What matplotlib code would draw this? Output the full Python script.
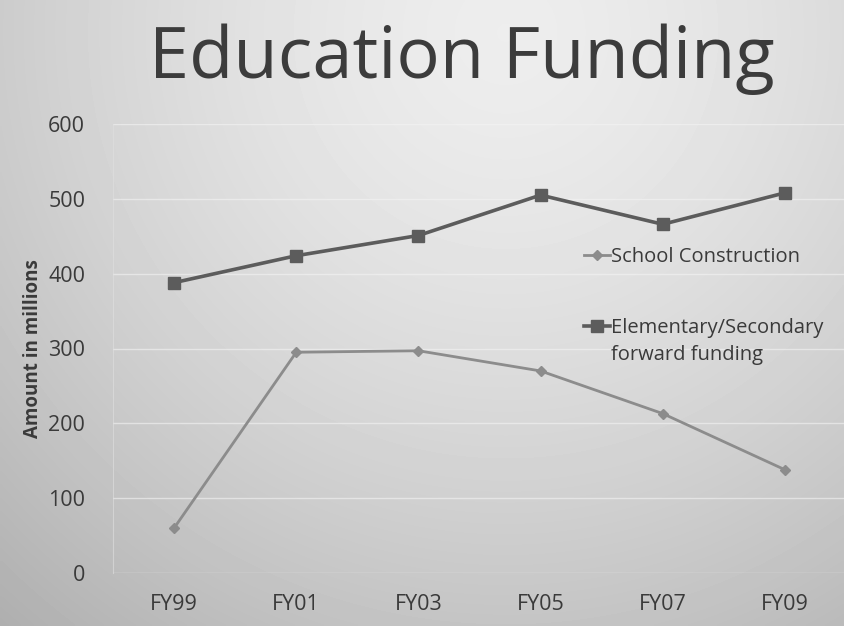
import numpy as np
import matplotlib
matplotlib.use("Agg")
import matplotlib.pyplot as plt
from matplotlib.lines import Line2D

# ---- data ----
categories = ["FY99", "FY01", "FY03", "FY05", "FY07", "FY09"]
school_construction = [60, 295, 297, 270, 213, 138]
elem_secondary = [388, 424, 451, 505, 466, 508]
yticks = [0, 100, 200, 300, 400, 500, 600]

FONT = ["Open Sans", "DejaVu Sans"]
plt.rcParams["font.family"] = FONT

W, H = 844, 626
fig = plt.figure(figsize=(W / 100, H / 100), dpi=100)

# background gradient (photo of a slide)
bg = fig.add_axes([0, 0, 1, 1], zorder=-10)
yy, xx = np.mgrid[0:1:200j, 0:1:270j]
d = np.sqrt(((xx - 0.6) / 0.8) ** 2 + ((yy - 0.05) / 1.1) ** 2)
val = 0.93 - 0.20 * d ** 1.5
val = np.clip(val, 0.68, 0.94)
bg.imshow(val, cmap="gray", vmin=0, vmax=1, aspect="auto",
          extent=[0, 1, 1, 0], interpolation="bilinear")
bg.set_xlim(0, 1)
bg.set_ylim(1, 0)
bg.axis("off")

ax = fig.add_axes([113 / W, 1 - 573 / H, (846 - 113) / W, (573 - 124) / H])
ax.patch.set_alpha(0)
x = np.arange(len(categories))

ax.plot(x, elem_secondary, color="#5c5c5c", lw=2.6, marker="s", ms=8.5,
        label="Elementary/Secondary", zorder=3)
ax.plot(x, school_construction, color="#8c8c8c", lw=2.0, marker="D", ms=5,
        label="School Construction", zorder=3)

ax.set_xlim(-0.5, 5.5)
ax.set_ylim(0, 600)
ax.set_yticks(yticks)
ax.set_xticks(x)
ax.set_xticklabels(categories)
ax.tick_params(axis="both", length=0, labelsize=15.5, colors="#3a3a3a")
ax.tick_params(axis="y", pad=20)
ax.tick_params(axis="x", pad=15)
ax.grid(axis="y", color="#f4f4f4", lw=1.0, alpha=0.6)
for s in ["top", "right", "bottom"]:
    ax.spines[s].set_visible(False)
ax.spines["left"].set_color("#e0e0e0")
ax.spines["left"].set_alpha(0.6)

ax.set_ylabel("Amount in millions", fontsize=13.5, fontweight="bold",
              color="#3a3a3a", labelpad=4)

fig.text(0.547, 0.905, "Education Funding", ha="center", va="center",
         fontsize=52, color="#3c3c3c")

# legend
h_school = Line2D([], [], color="#8c8c8c", lw=2.0, marker="D", ms=5)
h_elem = Line2D([], [], color="#5c5c5c", lw=2.6, marker="s", ms=8.5)
h_none = Line2D([], [], color="none")
leg1 = ax.legend([h_school], ["School Construction"], loc="center left",
                 bbox_to_anchor=(574 / W, 1 - 257 / H),
                 bbox_transform=fig.transFigure, frameon=False,
                 fontsize=14.5, handlelength=1.3, handletextpad=0.05,
                 borderpad=0, labelcolor="#3a3a3a")
ax.add_artist(leg1)
ax.legend([h_elem, h_none], ["Elementary/Secondary", "forward funding"],
          loc="upper left", bbox_to_anchor=(574 / W, 1 - 308 / H),
          bbox_transform=fig.transFigure, frameon=False, fontsize=14.5,
          handlelength=1.3, handletextpad=0.05, borderpad=0,
          labelspacing=0.35, labelcolor="#3a3a3a")

fig.savefig("out.png", dpi=100)
